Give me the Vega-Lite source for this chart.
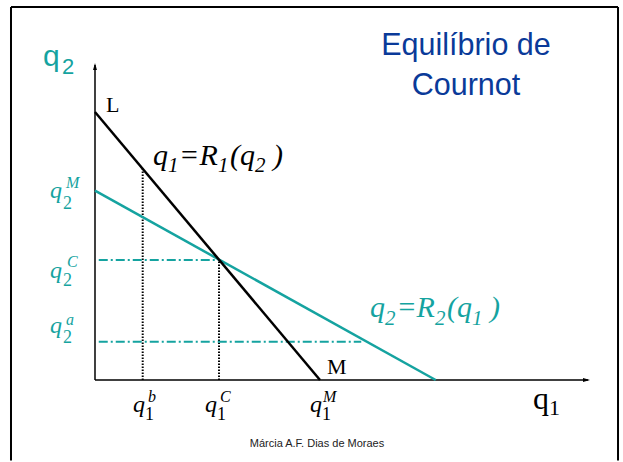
{
  "$schema": "https://vega.github.io/schema/vega-lite/v6.json",
  "width": 623,
  "height": 462,
  "autosize": {"type": "none"},
  "padding": 0,
  "background": "white",
  "config": {"view": {"stroke": null}},
  "datasets": {
    "segments": [
      {"kind": "border", "x": -22.4, "y": 99.47, "x2": -22.4, "y2": -21.5},
      {"kind": "border", "x": -22.4, "y": 99.47, "x2": 139.47, "y2": 99.47},
      {"kind": "border", "x": 139.47, "y": 99.47, "x2": 139.47, "y2": -21.5},
      {"kind": "axis", "x": 0, "y": 0, "x2": 0, "y2": 84.0},
      {"kind": "axis", "x": 0, "y": 0, "x2": 131.5, "y2": 0},
      {"kind": "r1", "x": 0, "y": 71.47, "x2": 60, "y2": 0},
      {"kind": "r2", "x": 0, "y": 50.5, "x2": 90.85, "y2": 0},
      {"kind": "dot", "x": 12.72, "y": 0, "x2": 12.72, "y2": 56.3},
      {"kind": "dot", "x": 33.07, "y": 0, "x2": 33.07, "y2": 32.0},
      {"kind": "dashdot", "x": 1, "y": 32.0, "x2": 33.07, "y2": 32.0},
      {"kind": "dashdot", "x": 1, "y": 10.2, "x2": 71, "y2": 10.2}
    ],
    "arrows": [
      {"dir": "up", "x": 0, "y": 83.6},
      {"dir": "right", "x": 131.07, "y": 0}
    ],
    "labels": [
      {"kind": "formula", "firm": "1", "t": "q", "x": 15.47, "y": 57.33},
      {"kind": "formula", "firm": "1", "t": "=", "x": 22.4, "y": 57.33},
      {"kind": "formula", "firm": "1", "t": "R", "x": 27.87, "y": 57.33},
      {"kind": "formula", "firm": "1", "t": "(", "x": 36.0, "y": 57.33},
      {"kind": "formula", "firm": "1", "t": "q", "x": 38.67, "y": 57.33},
      {"kind": "formula", "firm": "1", "t": ")", "x": 47.47, "y": 57.33},
      {"kind": "fsub", "firm": "1", "t": "1", "x": 19.47, "y": 55.47},
      {"kind": "fsub", "firm": "1", "t": "1", "x": 32.8, "y": 55.47},
      {"kind": "fsub", "firm": "1", "t": "2", "x": 42.67, "y": 55.47},
      {"kind": "formula", "firm": "2", "t": "q", "x": 73.33, "y": 16.8},
      {"kind": "formula", "firm": "2", "t": "=", "x": 80.4, "y": 16.8},
      {"kind": "formula", "firm": "2", "t": "R", "x": 85.73, "y": 16.8},
      {"kind": "formula", "firm": "2", "t": "(", "x": 93.87, "y": 16.8},
      {"kind": "formula", "firm": "2", "t": "q", "x": 96.53, "y": 16.8},
      {"kind": "formula", "firm": "2", "t": ")", "x": 105.33, "y": 16.8},
      {"kind": "fsub", "firm": "2", "t": "2", "x": 77.33, "y": 14.67},
      {"kind": "fsub", "firm": "2", "t": "2", "x": 90.67, "y": 14.67},
      {"kind": "fsub", "firm": "2", "t": "1", "x": 100.53, "y": 14.67},
      {"kind": "var", "firm": "2", "t": "q", "x": -12, "y": 48.53},
      {"kind": "var", "firm": "2", "t": "q", "x": -12, "y": 27.2},
      {"kind": "var", "firm": "2", "t": "q", "x": -12, "y": 12.53},
      {"kind": "var", "firm": "1", "t": "q", "x": 10.13, "y": -8.53},
      {"kind": "var", "firm": "1", "t": "q", "x": 29.33, "y": -8.53},
      {"kind": "var", "firm": "1", "t": "q", "x": 57.33, "y": -8.53},
      {"kind": "vsub", "firm": "2", "t": "2", "x": -8.53, "y": 45.6},
      {"kind": "vsub", "firm": "2", "t": "2", "x": -8.53, "y": 25.07},
      {"kind": "vsub", "firm": "2", "t": "2", "x": -8.53, "y": 9.87},
      {"kind": "vsub", "firm": "1", "t": "1", "x": 13.33, "y": -10.67},
      {"kind": "vsub", "firm": "1", "t": "1", "x": 32.53, "y": -10.67},
      {"kind": "vsub", "firm": "1", "t": "1", "x": 60.53, "y": -10.67},
      {"kind": "vsup", "firm": "2", "t": "M", "x": -7.73, "y": 51.2},
      {"kind": "vsup", "firm": "2", "t": "C", "x": -7.47, "y": 30.13},
      {"kind": "vsup", "firm": "2", "t": "a", "x": -7.73, "y": 14.67},
      {"kind": "vsup", "firm": "1", "t": "b", "x": 14.13, "y": -5.87},
      {"kind": "vsup", "firm": "1", "t": "C", "x": 33.33, "y": -5.87},
      {"kind": "vsup", "firm": "1", "t": "M", "x": 60.8, "y": -5.87},
      {"kind": "point", "firm": "1", "t": "L", "x": 2.93, "y": 71.47},
      {"kind": "point", "firm": "1", "t": "M", "x": 61.87, "y": 1.6},
      {"kind": "axq2", "firm": "2", "t": "q", "x": -13.87, "y": 83.73},
      {"kind": "axq2sub", "firm": "2", "t": "2", "x": -8.8, "y": 81.6},
      {"kind": "axq1", "firm": "1", "t": "q", "x": 116.8, "y": -7.73},
      {"kind": "axq1sub", "firm": "1", "t": "1", "x": 121.07, "y": -9.33},
      {"kind": "title", "firm": "title", "t": "Equilíbrio de", "x": 98.93, "y": 86.67},
      {"kind": "title", "firm": "title", "t": "Cournot", "x": 98.93, "y": 76.0},
      {"kind": "note", "firm": "note", "t": "Márcia A.F. Dias de Moraes", "x": 59.2, "y": -17.87}
    ]
  },
  "encoding": {
    "x": {"field": "x", "type": "quantitative", "scale": {"domain": [-25.333, 140.8], "nice": false, "zero": false}, "axis": null},
    "y": {"field": "y", "type": "quantitative", "scale": {"domain": [-21.867, 101.333], "nice": false, "zero": false}, "axis": null}
  },
  "layer": [
    {
      "data": {"name": "segments"},
      "transform": [{"filter": "datum.kind === 'border'"}],
      "mark": {"type": "rule", "stroke": "black", "strokeWidth": 2},
      "encoding": {"x2": {"field": "x2"}, "y2": {"field": "y2"}}
    },
    {
      "data": {"name": "segments"},
      "transform": [{"filter": "datum.kind === 'dot'"}],
      "mark": {"type": "rule", "stroke": "black", "strokeWidth": 2, "strokeDash": [1.5, 1.5]},
      "encoding": {"x2": {"field": "x2"}, "y2": {"field": "y2"}}
    },
    {
      "data": {"name": "segments"},
      "transform": [{"filter": "datum.kind === 'dashdot'"}],
      "mark": {"type": "rule", "stroke": "#15a3a0", "strokeWidth": 1.8, "strokeDash": [9, 3, 2, 3]},
      "encoding": {"x2": {"field": "x2"}, "y2": {"field": "y2"}}
    },
    {
      "data": {"name": "segments"},
      "transform": [{"filter": "datum.kind === 'axis'"}],
      "mark": {"type": "rule", "stroke": "black", "strokeWidth": 1.5},
      "encoding": {"x2": {"field": "x2"}, "y2": {"field": "y2"}}
    },
    {
      "data": {"name": "segments"},
      "transform": [{"filter": "datum.kind === 'r2'"}],
      "mark": {"type": "rule", "stroke": "#15a3a0", "strokeWidth": 2.5},
      "encoding": {"x2": {"field": "x2"}, "y2": {"field": "y2"}}
    },
    {
      "data": {"name": "segments"},
      "transform": [{"filter": "datum.kind === 'r1'"}],
      "mark": {"type": "rule", "stroke": "black", "strokeWidth": 2.5},
      "encoding": {"x2": {"field": "x2"}, "y2": {"field": "y2"}}
    },
    {
      "data": {"name": "arrows"},
      "transform": [{"filter": "datum.dir === 'up'"}],
      "mark": {"type": "point", "shape": "M0,-1L0.55,1L-0.55,1Z", "filled": true, "color": "black", "size": 49, "opacity": 1}
    },
    {
      "data": {"name": "arrows"},
      "transform": [{"filter": "datum.dir === 'right'"}],
      "mark": {"type": "point", "shape": "M1,0L-1,0.55L-1,-0.55Z", "filled": true, "color": "black", "size": 49, "opacity": 1}
    },
    {
      "data": {"name": "labels"},
      "transform": [{"filter": "datum.kind === 'formula'"}],
      "mark": {"type": "text", "font": "Liberation Serif", "fontStyle": "italic", "fontSize": 30, "align": "left", "baseline": "alphabetic"},
      "encoding": {"text": {"field": "t"}, "color": {"field": "firm", "type": "nominal", "scale": {"domain": ["1", "2", "title", "note"], "range": ["#000000", "#15a3a0", "#0a3a99", "#222222"]}, "legend": null}}
    },
    {
      "data": {"name": "labels"},
      "transform": [{"filter": "datum.kind === 'fsub'"}],
      "mark": {"type": "text", "font": "Liberation Serif", "fontStyle": "italic", "fontSize": 21, "align": "left", "baseline": "alphabetic"},
      "encoding": {"text": {"field": "t"}, "color": {"field": "firm", "type": "nominal", "legend": null}}
    },
    {
      "data": {"name": "labels"},
      "transform": [{"filter": "datum.kind === 'var'"}],
      "mark": {"type": "text", "font": "Liberation Serif", "fontStyle": "italic", "fontSize": 24, "align": "left", "baseline": "alphabetic"},
      "encoding": {"text": {"field": "t"}, "color": {"field": "firm", "type": "nominal", "legend": null}}
    },
    {
      "data": {"name": "labels"},
      "transform": [{"filter": "datum.kind === 'vsub'"}],
      "mark": {"type": "text", "font": "Liberation Serif", "fontSize": 18, "align": "left", "baseline": "alphabetic"},
      "encoding": {"text": {"field": "t"}, "color": {"field": "firm", "type": "nominal", "legend": null}}
    },
    {
      "data": {"name": "labels"},
      "transform": [{"filter": "datum.kind === 'vsup'"}],
      "mark": {"type": "text", "font": "Liberation Serif", "fontStyle": "italic", "fontSize": 16, "align": "left", "baseline": "alphabetic"},
      "encoding": {"text": {"field": "t"}, "color": {"field": "firm", "type": "nominal", "legend": null}}
    },
    {
      "data": {"name": "labels"},
      "transform": [{"filter": "datum.kind === 'point'"}],
      "mark": {"type": "text", "font": "Liberation Serif", "fontSize": 22, "align": "left", "baseline": "alphabetic"},
      "encoding": {"text": {"field": "t"}, "color": {"field": "firm", "type": "nominal", "legend": null}}
    },
    {
      "data": {"name": "labels"},
      "transform": [{"filter": "datum.kind === 'axq2'"}],
      "mark": {"type": "text", "font": "Liberation Sans", "fontSize": 30, "align": "left", "baseline": "alphabetic"},
      "encoding": {"text": {"field": "t"}, "color": {"field": "firm", "type": "nominal", "legend": null}}
    },
    {
      "data": {"name": "labels"},
      "transform": [{"filter": "datum.kind === 'axq2sub'"}],
      "mark": {"type": "text", "font": "Liberation Sans", "fontSize": 22, "align": "left", "baseline": "alphabetic"},
      "encoding": {"text": {"field": "t"}, "color": {"field": "firm", "type": "nominal", "legend": null}}
    },
    {
      "data": {"name": "labels"},
      "transform": [{"filter": "datum.kind === 'axq1'"}],
      "mark": {"type": "text", "font": "Liberation Serif", "fontSize": 32, "align": "left", "baseline": "alphabetic"},
      "encoding": {"text": {"field": "t"}, "color": {"field": "firm", "type": "nominal", "legend": null}}
    },
    {
      "data": {"name": "labels"},
      "transform": [{"filter": "datum.kind === 'axq1sub'"}],
      "mark": {"type": "text", "font": "Liberation Serif", "fontSize": 22, "align": "left", "baseline": "alphabetic"},
      "encoding": {"text": {"field": "t"}, "color": {"field": "firm", "type": "nominal", "legend": null}}
    },
    {
      "data": {"name": "labels"},
      "transform": [{"filter": "datum.kind === 'title'"}],
      "mark": {"type": "text", "font": "Liberation Sans", "fontSize": 30.5, "align": "center", "baseline": "alphabetic"},
      "encoding": {"text": {"field": "t"}, "color": {"field": "firm", "type": "nominal", "legend": null}}
    },
    {
      "data": {"name": "labels"},
      "transform": [{"filter": "datum.kind === 'note'"}],
      "mark": {"type": "text", "font": "Liberation Sans", "fontSize": 11, "align": "center", "baseline": "alphabetic"},
      "encoding": {"text": {"field": "t"}, "color": {"field": "firm", "type": "nominal", "legend": null}}
    }
  ]
}
